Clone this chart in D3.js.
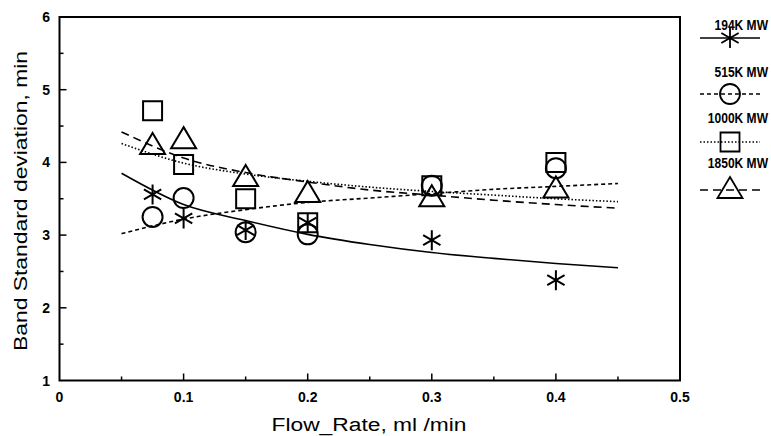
<!DOCTYPE html>
<html><head><meta charset="utf-8"><title>Band Standard deviation vs Flow Rate</title>
<style>
  body { margin: 0; background: #fff; }
  svg { display: block; }
  .tick-label { font-family: 'Liberation Sans', Arial, sans-serif; font-weight: bold; font-size: 14px; fill: #000; }
  .axis-title { font-family: 'Liberation Sans', Arial, sans-serif; font-size: 18px; fill: #000; }
  .legend-text { font-family: 'Liberation Sans', Arial, sans-serif; font-weight: bold; font-size: 14px; fill: #000; }
</style>
</head>
<body>
<svg id="chart" width="771" height="436"></svg>
<script src="https://d3js.org/d3.v7.min.js"></script>
<script>
// measured points
const flowRates = [0.075, 0.1, 0.15, 0.2, 0.3, 0.4];
const sd194 = [3.56, 3.23, 3.07, 3.17, 2.93, 2.38];
const sd515 = [3.25, 3.51, 3.04, 3.01, 3.68, 3.92];
const sd1000 = [4.71, 3.97, 3.50, 3.17, 3.68, 4.00];
const sd1850 = [4.24, 4.32, 3.80, 3.58, 3.52, 3.64];

// fitted curves
const fitX = [0.05, 0.1, 0.15, 0.2, 0.25, 0.3, 0.35, 0.4, 0.45];
const fit194 = [3.85, 3.42, 3.20, 3.01, 2.87, 2.76, 2.68, 2.61, 2.55];
const fit515 = [3.02, 3.22, 3.35, 3.45, 3.51, 3.57, 3.63, 3.67, 3.71];
const fit1000 = [4.26, 3.99, 3.84, 3.74, 3.66, 3.60, 3.55, 3.50, 3.46];
const fit1850 = [4.42, 4.06, 3.86, 3.73, 3.62, 3.55, 3.48, 3.42, 3.37];

const seriesNames = ['194K MW', '515K MW', '1000K MW', '1850K MW'];
const xTicks = [0, 0.1, 0.2, 0.3, 0.4, 0.5];
const xMinorTicks = [0.05, 0.15, 0.25, 0.35, 0.45];
const yTicks = [1, 2, 3, 4, 5, 6];
const yMinorTicks = [1.5, 2.5, 3.5, 4.5, 5.5];

const svg = d3.select('#chart');
const x = d3.scaleLinear().domain([0, 0.5]).range([59.5, 680]);
const y = d3.scaleLinear().domain([1, 6]).range([380.5, 17]);

const series = [
  { name: seriesNames[0], pts: sd194, fit: fit194, marker: 'star', dash: null },
  { name: seriesNames[1], pts: sd515, fit: fit515, marker: 'circle', dash: '4,3' },
  { name: seriesNames[2], pts: sd1000, fit: fit1000, marker: 'square', dash: '1.5,2' },
  { name: seriesNames[3], pts: sd1850, fit: fit1850, marker: 'triangle', dash: '8,5' }
];

function markerPath(type, cx, cy) {
  const p = d3.path();
  if (type === 'square') {
    p.rect(cx - 9.5, cy - 9.5, 19, 19);
  } else if (type === 'circle') {
    p.arc(cx, cy, 10, 0, 2 * Math.PI);
  } else if (type === 'triangle') {
    p.moveTo(cx, cy - 12); p.lineTo(cx + 12.5, cy + 9); p.lineTo(cx - 12.5, cy + 9); p.closePath();
  } else {
    const r = 10;
    [90, 30, 150].forEach(a => {
      const t = a * Math.PI / 180;
      p.moveTo(cx - r * Math.cos(t), cy - r * Math.sin(t));
      p.lineTo(cx + r * Math.cos(t), cy + r * Math.sin(t));
    });
  }
  return p.toString();
}

// frame
svg.append('rect')
  .attr('x', x(0)).attr('y', y(6))
  .attr('width', x(0.5) - x(0)).attr('height', y(1) - y(6))
  .attr('fill', 'none').attr('stroke', '#000').attr('stroke-width', 2);

// ticks (inward)
const tg = svg.append('g').attr('stroke', '#000').attr('stroke-width', 1.5);
xTicks.slice(1, -1).forEach(v => tg.append('line').attr('x1', x(v)).attr('x2', x(v)).attr('y1', y(1)).attr('y2', y(1) - 7));
xMinorTicks.forEach(v => tg.append('line').attr('x1', x(v)).attr('x2', x(v)).attr('y1', y(1)).attr('y2', y(1) - 4));
yTicks.slice(1, -1).forEach(v => tg.append('line').attr('x1', x(0)).attr('x2', x(0) + 7).attr('y1', y(v)).attr('y2', y(v)));
yMinorTicks.forEach(v => tg.append('line').attr('x1', x(0)).attr('x2', x(0) + 4).attr('y1', y(v)).attr('y2', y(v)));

// tick labels
svg.selectAll('.xl').data(xTicks).enter().append('text')
  .attr('class', 'tick-label').attr('x', d => x(d)).attr('y', 402)
  .attr('text-anchor', 'middle').text(d => d === 0 ? '0' : d3.format('.1f')(d));
svg.selectAll('.yl').data(yTicks).enter().append('text')
  .attr('class', 'tick-label').attr('x', 50).attr('y', d => y(d) + 5)
  .attr('text-anchor', 'end').text(d => d);

// axis titles
svg.append('text').attr('class', 'axis-title')
  .attr('x', 369).attr('y', 431).attr('text-anchor', 'middle')
  .attr('textLength', 195).attr('lengthAdjust', 'spacingAndGlyphs')
  .text('Flow_Rate, ml /min');
svg.append('text').attr('class', 'axis-title')
  .attr('transform', 'translate(27,201) rotate(-90)').attr('text-anchor', 'middle')
  .attr('textLength', 300).attr('lengthAdjust', 'spacingAndGlyphs')
  .text('Band Standard deviation, min');

// fitted curves
const line = d3.line().x(d => x(d[0])).y(d => y(d[1])).curve(d3.curveMonotoneX);
series.forEach(s => {
  svg.append('path')
    .attr('d', line(fitX.map((v, i) => [v, s.fit[i]])))
    .attr('fill', 'none').attr('stroke', '#000').attr('stroke-width', 1.6)
    .attr('stroke-dasharray', s.dash);
});

// markers
series.forEach(s => {
  svg.append('g').selectAll('path').data(flowRates.map((v, i) => [v, s.pts[i]])).enter()
    .append('path')
    .attr('d', d => markerPath(s.marker, x(d[0]), y(d[1])))
    .attr('fill', 'none').attr('stroke', '#000').attr('stroke-width', 2);
});

// legend: text right-aligned at 768, slightly condensed
const legendTextY = [30, 77, 123, 168];
const legendLineY = [38, 94, 142, 190];
series.forEach((s, i) => {
  svg.append('text').attr('class', 'legend-text')
    .attr('text-anchor', 'end')
    .attr('transform', `translate(768,${legendTextY[i]}) scale(0.86,1)`)
    .text(s.name);
  svg.append('line')
    .attr('x1', 700).attr('x2', 760).attr('y1', legendLineY[i]).attr('y2', legendLineY[i])
    .attr('stroke', '#000').attr('stroke-width', 1.3).attr('stroke-dasharray', s.dash);
  svg.append('path')
    .attr('d', markerPath(s.marker, 730, legendLineY[i] + (s.marker === 'triangle' ? -1 : 0)))
    .attr('fill', 'none').attr('stroke', '#000').attr('stroke-width', 1.8);
});
</script>
</body></html>
